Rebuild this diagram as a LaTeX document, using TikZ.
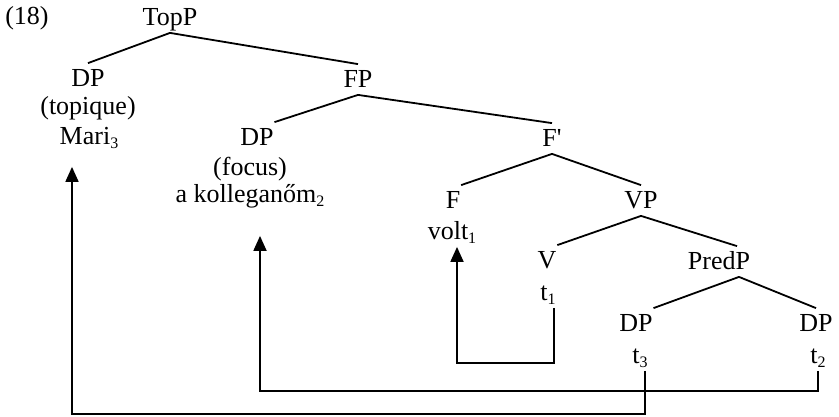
\documentclass[tikz,border=0pt]{standalone}
\usepackage{fontspec}
\setmainfont{Liberation Serif}
\usetikzlibrary{arrows.meta}
\newcommand\idx[1]{\raisebox{-4pt}{\fontsize{16}{16}\selectfont #1}}

\begin{document}
\begin{tikzpicture}[x=1pt,y=-1pt,line width=1.8pt]
\tikzstyle{lbl} = [anchor=base,inner xsep=0pt,inner ysep=5pt,text height=17pt,text depth=2pt,font=\fontsize{26}{30}\selectfont]
\tikzstyle{move} = [-{Triangle[length=15pt,width=13pt]}]
\useasboundingbox (0,0) rectangle (839,416);

\node [lbl] (ex) at (27,24) {(18)};
\node [lbl] (topp) at (170,25) {TopP};
\node [lbl] (dp1) at (88,86) {DP};
\node [lbl] (topq) at (88,114) {(topique)};
\node [lbl] (mari) at (89,144) {Mari\idx{3}};
\node [lbl] (fp) at (358,87) {FP};
\node [lbl] (dp2) at (257,145) {DP};
\node [lbl] (focus) at (250,175) {(focus)};
\node [lbl] (koll) at (250,202) {a kolleganőm\idx{2}};
\node [lbl] (fbar) at (552,146) {F\textquotesingle};
\node [lbl] (f) at (453,208) {F};
\node [lbl] (volt) at (452,239) {volt\idx{1}};
\node [lbl] (vp) at (641,208) {VP};
\node [lbl] (v) at (547,268) {V};
\node [lbl] (t1) at (548,300) {t\idx{1}};
\node [lbl] (predp) at (719,269) {PredP};
\node [lbl] (dp3) at (636,331) {DP};
\node [lbl] (t3) at (640,363) {t\idx{3}};
\node [lbl] (dp4) at (816,331) {DP};
\node [lbl] (t2) at (818,363) {t\idx{2}};

% tree
\draw (topp.south) -- (dp1.north);
\draw (topp.south) -- (fp.north);
\draw (fp.south) -- (dp2.north east);
\draw (fp.south) -- (fbar.north);
\draw (fbar.south) -- (f.north east);
\draw (fbar.south) -- (vp.north);
\draw (vp.south) -- (v.north east);
\draw (vp.south) -- ([xshift=18pt]predp.north);
\draw ([xshift=20pt]predp.south) -- (dp3.north east);
\draw ([xshift=20pt]predp.south) -- (dp4.north);

% movement
\draw [move] ([xshift=6pt]t1.south) -- ++(0,55) -| ([xshift=5pt]volt.south);
\draw [move] (t2.south) -- ++(0,20) -| ([xshift=10pt,yshift=-26pt]koll.south);
\draw [move] ([xshift=5pt]t3.south) -- ++(0,43) -| ([xshift=-17pt,yshift=-15pt]mari.south);
\end{tikzpicture}
\end{document}
